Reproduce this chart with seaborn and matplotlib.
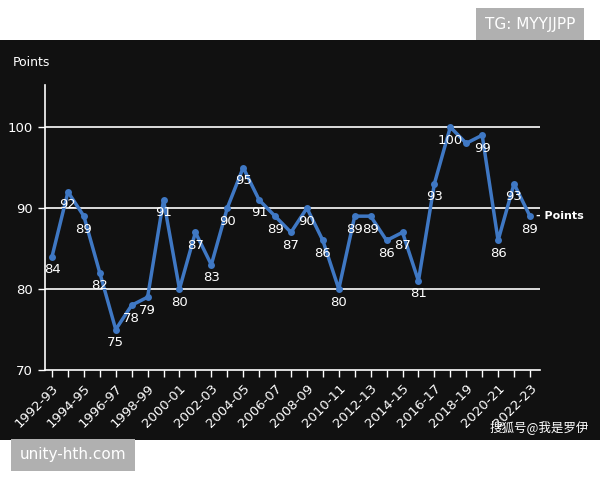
import matplotlib
matplotlib.use("Agg")
import matplotlib.pyplot as plt
import seaborn as sns
import pandas as pd
from matplotlib.patches import Rectangle

seasons = [f"{y}-{str(y+1)[-2:]}" for y in range(1992, 2023)]
points = [84, 92, 89, 82, 75, 78, 79, 91, 80, 87, 83, 90, 95, 91, 89, 87,
          90, 86, 80, 89, 89, 86, 87, 81, 93, 100, 98, 99, 86, 93, 89]
labeled = [True] * 31
labeled[26] = False

sns.set_theme(style="white")
plt.rcParams['font.family'] = ['DejaVu Sans', 'Noto Sans CJK SC']

df = pd.DataFrame({"x": range(len(seasons)), "Points": points})
fig = plt.figure(figsize=(6, 4.8), dpi=100)
fig.patch.set_facecolor("white")
fig.add_artist(Rectangle((0, 1 - 440/480), 1, 400/480, transform=fig.transFigure,
                         facecolor="#111111", edgecolor="none", zorder=0))
ax = fig.add_axes([0.075, 1 - 370/480, 0.825, (370 - 85)/480])
ax.set_facecolor("#111111")
ax.patch.set_alpha(0)

sns.lineplot(data=df, x="x", y="Points", ax=ax, color="#3f78c4", linewidth=2.5,
             marker="o", markersize=5, markeredgewidth=0)

for i, (v, l) in enumerate(zip(points, labeled)):
    if l:
        ax.text(i, v - 0.8, str(v), color="white", fontsize=9.5, ha="center", va="top")

ax.set_ylim(70, 105.2)
ax.set_xlim(-0.44, 30.63)
ax.set_yticks([70, 80, 90, 100])
for y in [80, 90, 100]:
    ax.axhline(y, color="white", lw=1.2, zorder=0)
ax.set_xticks(range(len(seasons)))
ax.set_xticklabels([s if i % 2 == 0 else "" for i, s in enumerate(seasons)],
                   rotation=45, ha="right", rotation_mode="anchor")
ax.tick_params(colors="white", labelsize=9.5, length=5, width=1, direction="out",
               bottom=True, left=True)
for s in ["top", "right"]:
    ax.spines[s].set_visible(False)
for s in ["left", "bottom"]:
    ax.spines[s].set_color("white")
    ax.spines[s].set_linewidth(1.2)
ax.set_xlabel("")
ax.set_ylabel("")

fig.text(13/600, 1 - 62/480, "Points", color="white", fontsize=9, va="center")
ax.text(30.4, points[-1], "- Points", color="white", fontsize=8, fontweight="bold",
        va="center", ha="left", clip_on=False)
fig.text(490/600, 1 - 427/480, "搜狐号@我是罗伊", color="white", fontsize=9,
         va="center", family=['Noto Sans CJK SC', 'DejaVu Sans'])

fig.text(530/600, 1 - 24/480, "TG: MYYJJPP", color="white", fontsize=11, ha="center",
         va="center", bbox=dict(facecolor="#b0b0b0", edgecolor="none", pad=6))
fig.text(73/600, 1 - 455/480, "unity-hth.com", color="white", fontsize=11, ha="center",
         va="center", bbox=dict(facecolor="#b0b0b0", edgecolor="none", pad=6))

fig.savefig("out.png", dpi=100, facecolor=fig.get_facecolor())
